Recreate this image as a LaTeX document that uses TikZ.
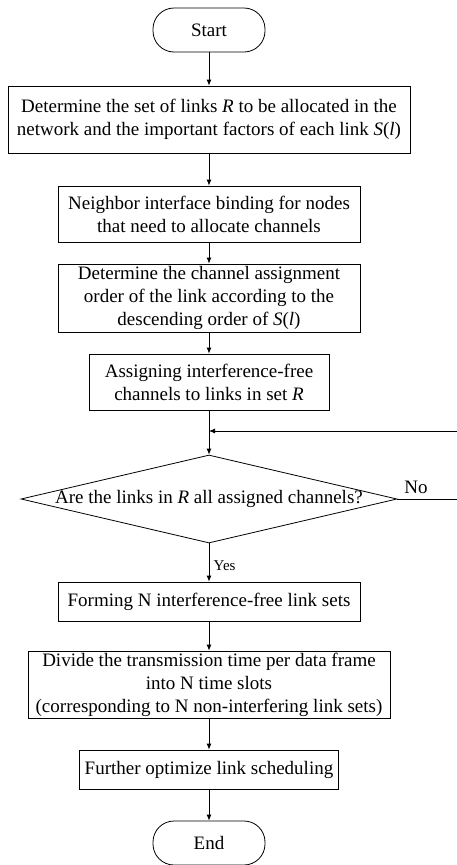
\documentclass[tikz,border=0pt]{standalone}
\usepackage{fontspec}
\setmainfont{Liberation Serif}
\usetikzlibrary{shapes.geometric,arrows.meta}

\begin{document}
\begin{tikzpicture}[x=1pt, y=-1pt, line width=0.8pt,
        every node/.style={font=\fontsize{19}{23}\selectfont},
        proc/.style={draw, rectangle, align=center, inner sep=0pt},
        term/.style={draw, rectangle, rounded corners=21pt, minimum width=112pt, minimum height=44pt},
        decide/.style={draw, diamond, aspect=4.27, inner xsep=-20pt, inner ysep=0pt, minimum width=376pt, minimum height=88pt},
        arr/.style={-{Latex[length=6pt,width=5pt]}}]
    \useasboundingbox (0,0) rectangle (456,865);

        \node[term] (start) at (209,30) {Start};
        \node[proc, minimum width=402pt, minimum height=67pt] (b1) at (209,119.5) {Determine the set of links \textit{R} to be allocated in the\\network and the important factors of each link \textit{S}(\textit{l})};
        \node[proc, minimum width=302pt, minimum height=56pt] (b2) at (209,214) {Neighbor interface binding for nodes\\that need to allocate channels};
        \node[proc, minimum width=302pt, minimum height=68pt] (b3) at (209,298) {Determine the channel assignment\\order of the link according to the\\descending order of \textit{S}(\textit{l})};
        \node[proc, minimum width=240pt, minimum height=56pt] (b4) at (209,382) {Assigning interference-free\\channels to links in set \textit{R}};
        \coordinate (merge) at (209,431);

        \node[decide] (dia) at (209,499) {Are the links in \textit{R} all assigned channels?};
        \node (no) at (416,487) {No};
        \coordinate (c1) at (460,499);
        \coordinate (c2) at (460,431);

        \node[anchor=west, font=\fontsize{15}{18}\selectfont] (yes) at (210,566) {Yes};
        \node[proc, minimum width=302pt, minimum height=39pt] (b5) at (209,601.5) {Forming N interference-free link sets};
        \node[proc, minimum width=362pt, minimum height=67pt] (b6) at (209,684.5) {Divide the transmission time per data frame\\into N time slots\\(corresponding to N non-interfering link sets)};
        \node[proc, minimum width=259pt, minimum height=39pt] (b7) at (209,769.5) {Further optimize link scheduling};
        \node[term] (end) at (209,843) {End};

        \draw[arr] (start) -- (b1);
        \draw[arr] (b1) -- (b2);
        \draw[arr] (b2) -- (b3);
        \draw[arr] (b3) -- (b4);
        \draw (b4) -- (merge);
        \draw[arr] (merge) -- (dia);
        \draw[arr] (dia.east) -- (c1) -- (c2) -- (merge);
        \draw[arr] (dia) -- (b5);
        \draw[arr] (b5) -- (b6);
        \draw[arr] (b6) -- (b7);
        \draw[arr] (b7) -- (end);
\end{tikzpicture}
\end{document}
